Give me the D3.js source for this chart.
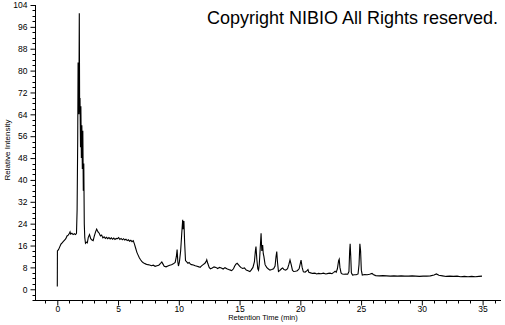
<!DOCTYPE html>
<html><head><meta charset="utf-8">
<script src="https://cdn.jsdelivr.net/npm/d3@7"></script>
<style>body{margin:0;background:#fff}svg{display:block}text{font-family:Arial,"Liberation Sans",sans-serif;fill:#000}</style>
</head><body><svg id="c" width="505" height="325"></svg>
<script>
const retentionTime = [0.00,0.01,0.10,0.20,0.30,0.40,0.50,0.60,0.70,0.80,0.90,1.00,1.05,1.10,1.20,1.30,1.40,1.50,1.58,1.63,1.68,1.71,1.74,1.78,1.81,1.84,1.87,1.91,1.94,1.98,2.02,2.06,2.10,2.14,2.18,2.22,2.26,2.32,2.40,2.47,2.55,2.65,2.75,2.85,2.95,3.05,3.15,3.24,3.35,3.45,3.55,3.65,3.75,3.85,3.95,4.05,4.15,4.25,4.35,4.45,4.55,4.65,4.75,4.85,4.95,5.05,5.15,5.25,5.35,5.45,5.55,5.65,5.75,5.85,5.95,6.05,6.15,6.25,6.35,6.45,6.55,6.65,6.75,6.85,6.95,7.05,7.15,7.3,7.45,7.6,7.75,7.9,8.05,8.2,8.35,8.5,8.6,8.7,8.8,8.95,9.1,9.25,9.4,9.55,9.7,9.8,9.86,9.92,9.97,10.05,10.15,10.25,10.32,10.36,10.42,10.48,10.55,10.65,10.75,10.85,10.95,11.05,11.2,11.35,11.5,11.65,11.75,11.85,12.0,12.15,12.25,12.3,12.38,12.5,12.6,12.75,12.9,13.05,13.2,13.35,13.5,13.65,13.8,13.95,14.1,14.25,14.35,14.5,14.6,14.7,14.8,14.9,15.0,15.1,15.25,15.4,15.55,15.7,15.85,15.95,16.1,16.22,16.3,16.35,16.42,16.5,16.56,16.62,16.7,16.77,16.83,16.9,16.95,17.0,17.1,17.23,17.35,17.5,17.65,17.8,17.92,18.0,18.06,18.12,18.2,18.3,18.45,18.55,18.65,18.8,18.95,19.05,19.15,19.25,19.35,19.45,19.6,19.75,19.9,20.0,20.06,20.15,20.25,20.4,20.55,20.63,20.7,20.85,21.0,21.2,21.35,21.5,21.7,21.9,22.1,22.3,22.45,22.6,22.75,22.86,22.95,23.05,23.15,23.2,23.26,23.35,23.45,23.6,23.75,23.9,24.0,24.06,24.1,24.15,24.2,24.3,24.45,24.6,24.75,24.83,24.9,24.96,25.02,25.1,25.3,25.5,25.7,25.9,26.0,26.2,26.5,26.8,27.1,27.4,27.7,28.0,28.3,28.6,28.9,29.2,29.5,29.8,30.1,30.4,30.7,31.0,31.2,31.4,31.7,32.0,32.3,32.6,32.9,33.2,33.5,33.8,34.1,34.4,34.7,34.95];
const intensity = [1,14,14.5,15.5,16.5,17,17.5,18,18.5,19.5,19.8,20.5,21,20.2,20.5,20,20.3,20,20.5,29,55,83,64,70,101,64,70,52,67,48,60,44,58,36,46,24,19,16.8,17.2,17,19,20,18.5,18,17.8,19.5,21,22,21,20.5,19.5,19.8,18.8,19.2,18.6,19,18.5,18.9,18.4,18.8,18.3,18.7,18.2,18.6,18.5,18.9,18.2,18.6,18.1,18.5,18,18.3,17.8,18.1,17.6,17.9,17.4,17.8,16.5,15,13.5,12.5,11.5,10.8,10.2,9.8,9.5,9.2,9.0,8.9,8.6,8.8,8.4,8.6,8.8,9.5,10,9.2,8.4,8.2,8.5,8.8,9.0,9.3,9.8,12,14.5,10,8.5,10,14,21,25.4,22,25,17,10.5,10,9.5,9.8,9.2,9.0,8.9,8.6,8.4,8.2,8.0,8.5,9.0,9.5,10.2,10.8,9.5,8.0,7.5,7.8,8.2,8.0,7.6,8.0,7.8,7.4,7.9,7.5,7.2,7.0,6.8,7.5,8.5,9.2,9.5,9.0,8.5,8.0,7.6,7.8,7.0,6.8,6.5,7,8,10,14,15.6,11,7.5,7,9,15,20.5,14,16.2,13,12,9,8,7.5,7,7.2,7.5,8.5,12,13.8,10,6.5,6.8,7.5,7.8,7.2,7,7.5,9,10.7,9,7,6.5,6.6,6.8,7.5,9.5,10.7,8,6.4,6.3,6.8,7.2,6.2,6.0,5.8,5.9,5.6,5.8,5.7,5.9,5.6,5.8,5.9,5.7,6.2,6.6,6.2,7.5,10.5,11,8,6,5.6,5.5,5.6,5.5,6.5,14,16.6,12,6,5.2,5.3,5.3,5.6,9,16.6,14,7,5.2,5.4,5.3,5.5,5.8,5.4,5.0,4.9,5.0,4.9,4.8,4.9,4.8,4.9,4.8,4.8,4.9,4.8,4.7,4.8,4.8,4.9,5.2,5.6,5.1,4.9,4.7,4.8,4.7,4.8,4.6,4.7,4.6,4.7,4.6,4.7,4.8];
const yTickLabels = [0,8,16,24,32,40,48,56,64,72,80,88,96,104];
const xTickLabels = [0,5,10,15,20,25,30,35];
const xTitle = "Retention Time (min)";
const yTitle = "Relative Intensity";
const copyright = "Copyright NIBIO All Rights reserved.";

const svg = d3.select("#c");
const x = d3.scaleLinear().domain([0,35]).range([57.3,482.6]);
const y = d3.scaleLinear().domain([-4,104]).range([300.2,5]);

// Y axis
const yAx = d3.axisLeft(y).tickValues(yTickLabels).tickSize(5).tickPadding(3).tickFormat(d3.format("d"));
const gy = svg.append("g").attr("transform","translate(35.5,0)").call(yAx);
gy.select(".domain").remove();
gy.selectAll("text").style("font-size","8.5px").style("font-family","Arial");
const yMinor = d3.range(-4,105,2).filter(v=>v%8!==0);
gy.selectAll("line.minor").data(yMinor).enter().append("line").attr("class","minor")
  .attr("x1",-3).attr("x2",0).attr("y1",d=>Math.round(y(d))+0.5).attr("y2",d=>Math.round(y(d))+0.5).attr("stroke","#000");
svg.append("line").attr("x1",35.5).attr("x2",35.5).attr("y1",y(104)).attr("y2",y(-4)).attr("stroke","#000");

// X axis
const xAx = d3.axisBottom(x).tickValues(xTickLabels).tickSize(5).tickPadding(0).tickFormat(d3.format("d"));
const gx = svg.append("g").attr("transform","translate(0,300.5)").call(xAx);
gx.select(".domain").remove();
gx.selectAll("text").style("font-size","8.5px").style("font-family","Arial");
const xMinor = d3.range(-1,37,1).filter(v=>v%5!==0);
gx.selectAll("line.minor").data(xMinor).enter().append("line").attr("class","minor")
  .attr("y1",0).attr("y2",3).attr("x1",d=>Math.round(x(d))+0.5).attr("x2",d=>Math.round(x(d))+0.5).attr("stroke","#000");
svg.append("line").attr("x1",35).attr("x2",501).attr("y1",300.5).attr("y2",300.5).attr("stroke","#000");

// Titles
svg.append("text").attr("x",263).attr("y",319.5).attr("text-anchor","middle").style("font-size","7.5px").text(xTitle);
svg.append("text").attr("transform","translate(10,150) rotate(-90)").attr("text-anchor","middle").style("font-size","8px").text(yTitle);
svg.append("text").attr("x",207).attr("y",24).style("font-size","18.5px")
  .attr("textLength",291).attr("lengthAdjust","spacingAndGlyphs").text(copyright);

// Trace
const pts = retentionTime.map((t,i)=>[t,intensity[i]]);
svg.append("path").datum(pts).attr("fill","none").attr("stroke","#000").attr("stroke-width",1.1)
  .attr("d",d3.line().x(d=>x(d[0])).y(d=>y(d[1])));
</script></body></html>
